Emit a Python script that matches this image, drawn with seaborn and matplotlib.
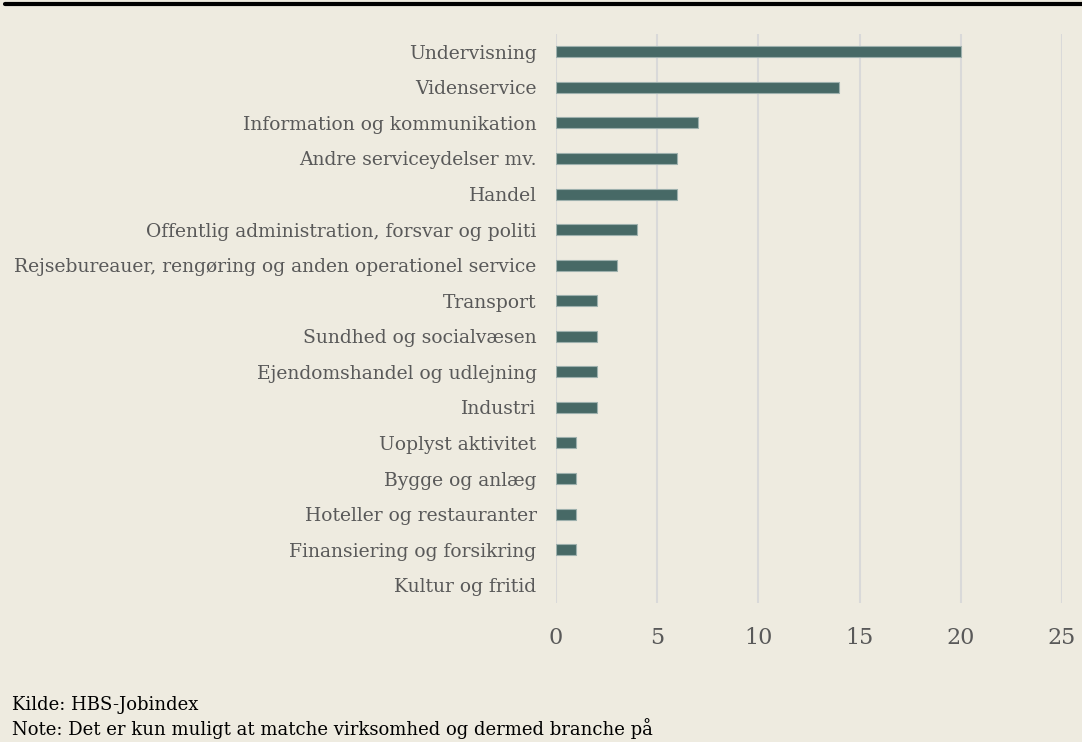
import matplotlib
matplotlib.use("Agg")
import matplotlib.pyplot as plt
import seaborn as sns
import pandas as pd
from matplotlib.lines import Line2D

# Data
branches = [
    "Undervisning", "Videnservice", "Information og kommunikation",
    "Andre serviceydelser mv.", "Handel",
    "Offentlig administration, forsvar og politi",
    "Rejsebureauer, rengøring og anden operationel service",
    "Transport", "Sundhed og socialvæsen", "Ejendomshandel og udlejning",
    "Industri", "Uoplyst aktivitet", "Bygge og anlæg",
    "Hoteller og restauranter", "Finansiering og forsikring", "Kultur og fritid",
]
counts = [20, 14, 7, 6, 6, 4, 3, 2, 2, 2, 2, 1, 1, 1, 1, 0]
xticks = [0, 5, 10, 15, 20, 25]

df = pd.DataFrame({"branche": branches, "antal": counts})

bg = "#EEEBE0"
bar_color = "#476966"
text_color = "#595959"

sns.set_theme(style="white")
plt.rcParams["font.family"] = ["DejaVu Serif"]

fig = plt.figure(figsize=(10.82, 7.42), dpi=100, facecolor=bg)
ax = fig.add_axes([0.5139, 0.1873, 0.4676, 0.7669], facecolor=bg)

sns.barplot(data=df, x="antal", y="branche", orient="h", color=bar_color,
            width=0.31, edgecolor="#9DB0AD", linewidth=0.8, saturation=1, ax=ax)

# zero-valued bars should not leave an outline
for p in ax.patches:
    if p.get_width() == 0:
        p.set_visible(False)

ax.set_xlim(0, 25)
ax.set_ylim(15.5, -0.5)
ax.set_xticks(xticks)
ax.set_xticklabels([str(t) for t in xticks], fontsize=16, color=text_color)
ax.tick_params(axis="x", length=0, pad=17)
ax.tick_params(axis="y", length=0, pad=14, labelsize=13.5, labelcolor=text_color)
ax.set_xlabel("")
ax.set_ylabel("")
ax.grid(axis="x", color="#D9D9D9", linewidth=1.5)
ax.grid(axis="y", visible=False)
ax.set_axisbelow(True)
for s in ax.spines.values():
    s.set_visible(False)

# black rule at the top (title above is cropped off)
fig.add_artist(Line2D([0.005, 1.0], [0.9946, 0.9946], color="black",
                      linewidth=3, transform=fig.transFigure))

fig.text(0.011, 0.043, "Kilde: HBS-Jobindex", fontsize=13, color="black",
         va="baseline")
fig.text(0.011, 0.009, "Note: Det er kun muligt at matche virksomhed og dermed branche på",
         fontsize=13, color="black", va="baseline")

fig.savefig("out.png", dpi=100, facecolor=bg)
